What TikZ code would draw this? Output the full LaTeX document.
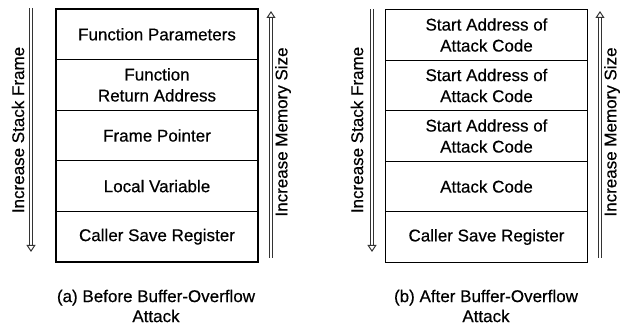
\documentclass[tikz,border=0pt]{standalone}
\usepackage{fontspec}
\setmainfont{Liberation Sans}[FakeBold=0.5]
\usetikzlibrary{arrows.meta}
\begin{document}
\begin{tikzpicture}[x=1pt,y=-1pt,
  cell/.style={draw=black, line width=1.2pt, minimum width=202pt, minimum height=50.6pt, inner sep=0pt, align=center, font=\fontsize{17}{21}\selectfont},
  lbl/.style={font=\fontsize{17}{21}\selectfont, rotate=90, inner sep=0pt},
  captext/.style={font=\fontsize{17}{20}\selectfont, align=center, inner sep=0pt},
  dblarrow/.style={draw=black!80, line width=1pt, double=white, double distance=2pt, -{Triangle[open, length=7pt, width=9pt, line width=1pt]}}
]
\useasboundingbox (0,0) rectangle (627,331);
% ---- left panel
\node[cell] (a1) at (157,34.3) {Function Parameters};
\node[cell] (a2) at (157,84.9) {Function\\Return Address};
\node[cell] (a3) at (157,135.5) {Frame Pointer};
\node[cell] (a4) at (157,186.1) {Local Variable};
\node[cell] (a5) at (157,236.7) {Caller Save Register};
\coordinate (sa1) at (31,8);
\coordinate (sa2) at (31,252);
\draw[dblarrow] (sa1) -- (sa2);
\node[lbl] (ta) at (18,130) {Increase Stack Frame};
\coordinate (ma1) at (271,258);
\coordinate (ma2) at (271,11);
\draw[dblarrow] (ma1) -- (ma2);
\node[lbl] (tma) at (283,132) {Increase Memory Size};
\node[captext] (capa) at (156,306) {(a) Before Buffer-Overflow\\Attack};
% ---- right panel
\node[cell] (b1) at (486.5,35) {Start Address of\\Attack Code};
\node[cell] (b2) at (486.5,85.5) {Start Address of\\Attack Code};
\node[cell] (b3) at (486.5,136) {Start Address of\\Attack Code};
\node[cell] (b4) at (486.5,186.5) {Attack Code};
\node[cell] (b5) at (486.5,237) {Caller Save Register};
\coordinate (sb1) at (372,9);
\coordinate (sb2) at (372,252);
\draw[dblarrow] (sb1) -- (sb2);
\node[lbl] (tb) at (357,130) {Increase Stack Frame};
\coordinate (mb1) at (600,258);
\coordinate (mb2) at (600,11);
\draw[dblarrow] (mb1) -- (mb2);
\node[lbl] (tmb) at (612,132) {Increase Memory Size};
\node[captext] (capb) at (486,306) {(b) After Buffer-Overflow\\Attack};
\end{tikzpicture}
\end{document}
